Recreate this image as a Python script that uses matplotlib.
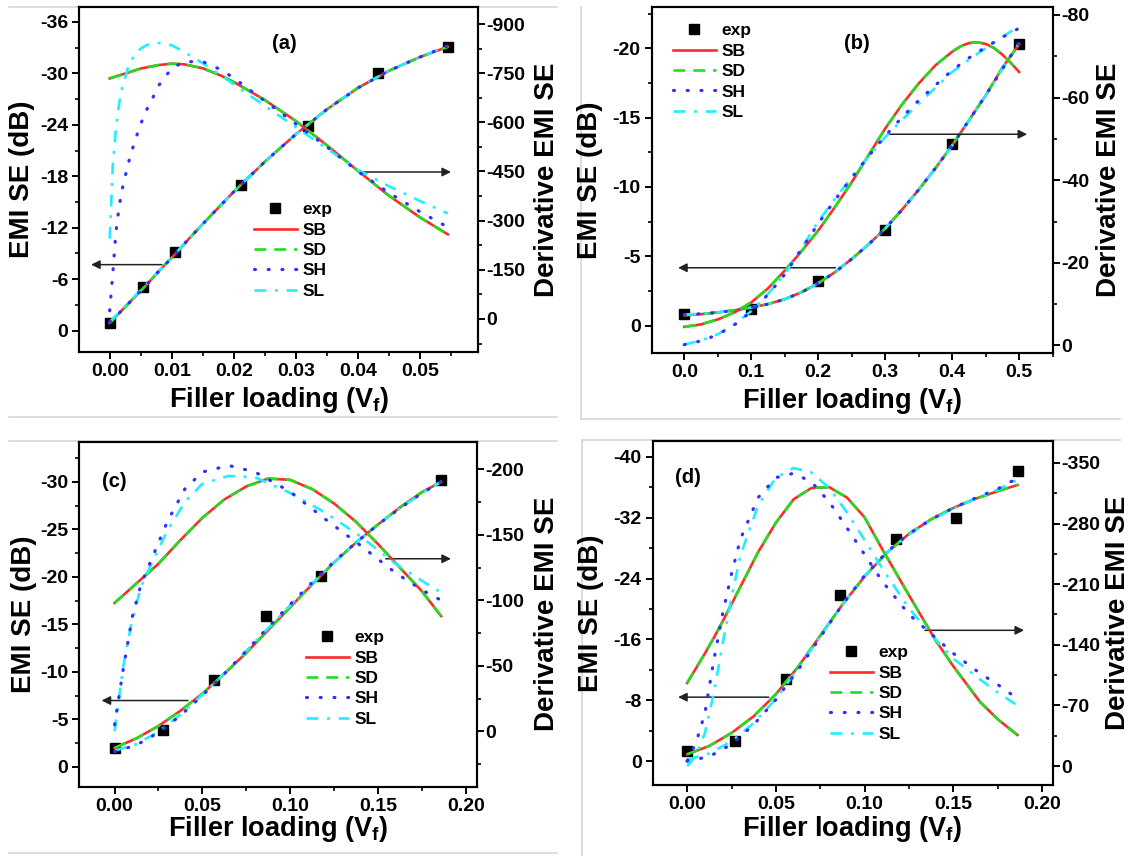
import matplotlib
matplotlib.use('Agg')
import matplotlib.pyplot as plt
from matplotlib.lines import Line2D
from matplotlib.ticker import MultipleLocator, FormatStrFormatter

plt.rcParams['font.family'] = ['Liberation Sans', 'DejaVu Sans']
plt.rcParams['font.weight'] = 'bold'
plt.rcParams['axes.unicode_minus'] = False
plt.rcParams['mathtext.fontset'] = 'custom'
plt.rcParams['mathtext.rm'] = 'Liberation Sans:bold'
plt.rcParams['mathtext.bf'] = 'Liberation Sans:bold'
plt.rcParams['mathtext.default'] = 'bf'

# ---------------- panel (a) ----------------
x_exp_a = [0.0, 0.0054, 0.0105, 0.0211, 0.0320, 0.0432, 0.0545]
y_exp_a = [-0.9, -5.1, -9.2, -17.0, -23.9, -30.0, -33.1]
x_fit_a = [0, 0.002, 0.004, 0.006, 0.008, 0.010, 0.013, 0.016, 0.020, 0.025,
           0.030, 0.035, 0.040, 0.045, 0.050, 0.0545]
emi_sb_a = [-0.9, -2.4, -3.9, -5.4, -7.0, -8.5, -10.9, -13.2, -16.2, -19.7,
            -22.9, -25.8, -28.3, -30.3, -31.9, -33.1]
emi_sh_a = [-1.0, -2.4, -3.9, -5.4, -7.0, -8.5, -10.9, -13.2, -16.2, -19.7,
            -22.9, -25.8, -28.3, -30.3, -31.9, -33.2]
emi_sl_a = [-1.0, -2.5, -4.0, -5.5, -7.0, -8.5, -10.9, -13.2, -16.2, -19.7,
            -22.9, -25.8, -28.3, -30.3, -31.9, -33.2]
x_der_a = [0, 0.0005, 0.001, 0.0015, 0.002, 0.003, 0.004, 0.005, 0.006, 0.008,
           0.010, 0.012, 0.015, 0.018, 0.020, 0.025, 0.030, 0.035, 0.040,
           0.045, 0.050, 0.0545]
der_sb_a = [-734, -737, -740, -743, -746, -752, -758, -764, -768, -775, -779,
            -777, -765, -742, -723, -668, -604, -530, -452, -376, -310, -258]
der_sh_a = [-25, -140, -265, -340, -395, -475, -540, -595, -640, -715, -765,
            -785, -785, -760, -735, -665, -595, -525, -450, -385, -327, -280]
der_sl_a = [-245, -470, -580, -655, -705, -770, -805, -825, -836, -842, -835,
            -815, -780, -742, -716, -650, -585, -520, -455, -405, -360, -322]

# ---------------- panel (b) ----------------
x_exp_b = [0.0, 0.1, 0.2, 0.3, 0.4, 0.5]
y_exp_b = [-0.85, -1.2, -3.2, -6.9, -13.1, -20.3]
x_fit_b = [0, 0.025, 0.05, 0.075, 0.1, 0.125, 0.15, 0.175, 0.2, 0.225, 0.25,
           0.275, 0.3, 0.325, 0.35, 0.375, 0.4, 0.425, 0.45, 0.475, 0.5]
emi_sb_b = [-0.75, -0.82, -0.95, -1.1, -1.3, -1.55, -1.9, -2.4, -3.05, -3.85,
            -4.8, -5.85, -7.0, -8.35, -9.8, -11.35, -13.0, -14.8, -16.6,
            -18.6, -20.3]
emi_sh_b = [-0.8, -0.85, -0.95, -1.1, -1.3, -1.55, -1.9, -2.4, -3.05, -3.85,
            -4.8, -5.85, -7.0, -8.35, -9.8, -11.35, -13.0, -14.8, -16.6,
            -18.5, -20.4]
emi_sl_b = [-0.8, -0.85, -0.95, -1.1, -1.3, -1.55, -1.9, -2.4, -3.05, -3.85,
            -4.8, -5.85, -7.0, -8.35, -9.8, -11.35, -13.0, -14.8, -16.6,
            -18.5, -20.4]
x_der_b = [0, 0.025, 0.05, 0.075, 0.1, 0.125, 0.15, 0.175, 0.2, 0.225, 0.25,
           0.275, 0.3, 0.325, 0.35, 0.375, 0.4, 0.4125, 0.425, 0.4375, 0.45,
           0.4625, 0.475, 0.4875, 0.5]
der_sb_b = [-4.5, -5.1, -6.3, -8.0, -10.4, -13.8, -18.1, -22.8, -27.8, -33.5,
            -39.5, -46.0, -52.5, -58.3, -63.4, -67.8, -71.1, -72.4, -73.2,
            -73.4, -73.0, -72.0, -70.4, -68.4, -66.2]
der_sh_b = [-0.2, -1.1, -2.6, -5.0, -8.2, -12.3, -17.2, -23.3, -29.5, -35.2,
            -40.6, -45.8, -50.7, -55.2, -59.3, -63.0, -66.6, -68.1, -69.6,
            -70.9, -72.2, -73.4, -74.6, -75.7, -76.8]
der_sl_b = [-0.2, -1.2, -2.7, -5.2, -8.3, -12.5, -17.2, -23.5, -30.0, -35.5,
            -40.7, -45.7, -50.4, -54.6, -58.5, -62.4, -66.2, -67.7, -69.2,
            -70.6, -71.9, -73.3, -74.7, -76.0, -77.2]

# ---------------- panel (c) ----------------
x_exp_c = [0.0, 0.0274, 0.0565, 0.0862, 0.1175, 0.186]
y_exp_c = [-2.0, -3.9, -9.1, -15.9, -20.1, -30.2]
x_fit_c = [0, 0.0125, 0.025, 0.0375, 0.05, 0.0625, 0.075, 0.0875, 0.1, 0.1125,
           0.125, 0.1375, 0.15, 0.1625, 0.175, 0.186]
emi_sb_c = [-2.0, -3.0, -4.3, -5.9, -7.7, -9.8, -12.0, -14.4, -16.8, -19.2,
            -21.5, -23.6, -25.5, -27.3, -28.9, -30.0]
emi_sh_c = [-1.6, -2.3, -3.6, -5.4, -7.5, -9.8, -12.2, -14.7, -17.1, -19.4,
            -21.6, -23.6, -25.5, -27.2, -28.8, -30.0]
emi_sl_c = [-1.7, -2.4, -3.7, -5.5, -7.6, -9.8, -12.2, -14.6, -17.0, -19.3,
            -21.5, -23.6, -25.5, -27.2, -28.8, -30.0]
der_sb_c = [-98, -113, -128, -146, -163, -177, -187, -193, -192, -185, -174,
            -160, -143, -125, -107, -88]
x_der_c = [0, 0.005, 0.01, 0.015, 0.02, 0.03, 0.04, 0.05, 0.065, 0.08, 0.1,
           0.12, 0.14, 0.16, 0.175, 0.186]
der_sh_c = [-5, -48, -87, -112, -128, -160, -185, -198, -203, -198, -183,
            -162, -142, -121, -108, -100]
der_sl_c = [0, -50, -85, -110, -125, -153, -175, -189, -195, -194, -182,
            -167, -149, -128, -115, -106]

# ---------------- panel (d) ----------------
x_exp_d = [0.0, 0.0272, 0.0558, 0.0863, 0.1176, 0.1513, 0.1865]
y_exp_d = [-1.3, -2.7, -10.8, -21.8, -29.2, -31.9, -38.2]
x_fit_d = [0, 0.0125, 0.025, 0.0375, 0.05, 0.0625, 0.075, 0.0875, 0.1, 0.1125,
           0.125, 0.1375, 0.15, 0.1625, 0.175, 0.186]
emi_sb_d = [-0.9, -2.0, -3.7, -5.9, -8.8, -12.4, -16.5, -20.6, -24.3, -27.4,
            -29.9, -31.8, -33.3, -34.5, -35.5, -36.3]
emi_sh_d = [0.0, -0.6, -2.2, -4.8, -8.1, -12.0, -16.3, -20.6, -24.4, -27.5,
            -29.9, -31.8, -33.3, -34.6, -35.8, -37.2]
emi_sl_d = [-0.2, -1.0, -2.6, -5.0, -8.2, -12.2, -16.4, -20.6, -24.4, -27.4,
            -29.8, -31.7, -33.2, -34.5, -35.7, -37.0]
x_der_d = [0, 0.005, 0.01, 0.015, 0.02, 0.025, 0.03, 0.04, 0.05, 0.06, 0.07,
           0.08, 0.09, 0.1, 0.11, 0.125, 0.14, 0.15, 0.165, 0.175, 0.186]
der_sb_d = [-96, -113, -130, -148, -167, -187, -207, -247, -281, -308, -321,
            -322, -310, -287, -250, -197, -145, -115, -74, -54, -36]
der_sh_d = [-6, -27, -61, -122, -176, -222, -262, -310, -333, -338, -328,
            -305, -275, -244, -213, -175, -148, -130, -107, -94, -78]
der_sl_d = [0, -12, -38, -84, -141, -195, -243, -301, -333, -344, -339,
            -321, -293, -261, -228, -182, -146, -124, -100, -85, -70]

# line styles
st_sb = dict(color='#ff2b2b', lw=1.9, zorder=3)
st_sd = dict(color='#22dd22', lw=1.9, dashes=(4.5, 3), zorder=4)
st_sh = dict(color='#3030ff', lw=2.3, dashes=(0.3, 4.0),
             dash_capstyle='round', zorder=6)
st_sl = dict(color='#22eeff', lw=1.9, dashes=(4.5, 3.3, 1.1, 3.3), zorder=5)

W, H = 1136, 856
fig = plt.figure(figsize=(W / 100, H / 100), dpi=100)


def px(x0, y0, x1, y1):
    return [x0 / W, (x1 - x0) / W, 1 - y1 / H, (y1 - y0) / H]


def panel(box, xlim, ylim, y2lim, steps, xfmt,
          xe, ye, xf, e_sb, e_sh, e_sl, xd, d_sb, d_sh, d_sl, xd_sb,
          tag, tag_xy, arrows, leg_xy, ylab_x, y2lab_x, xlab_y):
    l, w, b, h = box
    ax = fig.add_axes([l, b, w, h])
    ax2 = ax.twinx()
    ax.set_xlim(*xlim)
    ax.set_ylim(*ylim)
    ax2.set_ylim(*y2lim)

    ax.plot(xf, e_sb, **st_sb)
    ax.plot(xf, e_sb, **st_sd)
    ax.plot(xf, e_sl, **st_sl)
    ax.plot(xf, e_sh, **st_sh)
    ax.plot(xe, ye, ls='none', marker='s', ms=7, color='black', zorder=2)

    ax2.plot(xd_sb, d_sb, **st_sb)
    ax2.plot(xd_sb, d_sb, **st_sd)
    ax2.plot(xd, d_sl, **st_sl)
    ax2.plot(xd, d_sh, **st_sh)

    for (xa0, ya0, xa1) in arrows:
        ax.annotate('', xy=(xa1, ya0), xytext=(xa0, ya0),
                    arrowprops=dict(arrowstyle='-|>', color='#222222', lw=1.1,
                                    mutation_scale=13, shrinkA=0, shrinkB=0),
                    zorder=8)
    ax.text(tag_xy[0], tag_xy[1], tag, fontsize=14.5, fontweight='bold',
            ha='center', va='center')

    ax.xaxis.set_major_locator(MultipleLocator(steps[0]))
    ax.xaxis.set_minor_locator(MultipleLocator(steps[0] / 2))
    ax.xaxis.set_major_formatter(FormatStrFormatter(xfmt))
    ax.yaxis.set_major_locator(MultipleLocator(steps[1]))
    ax.yaxis.set_minor_locator(MultipleLocator(steps[1] / 2))
    ax.yaxis.set_major_formatter(FormatStrFormatter('%d'))
    ax2.yaxis.set_major_locator(MultipleLocator(steps[2]))
    ax2.yaxis.set_minor_locator(MultipleLocator(steps[2] / 2))
    ax2.yaxis.set_major_formatter(FormatStrFormatter('%d'))

    ax.xaxis.set_ticks_position('bottom')
    ax.yaxis.set_ticks_position('left')
    ax.tick_params(which='major', direction='out', length=5, width=1.4,
                   labelsize=14, pad=3)
    ax.tick_params(which='minor', direction='out', length=3, width=1.2)
    ax2.tick_params(which='major', direction='out', length=5, width=1.4,
                    labelsize=14, pad=1)
    ax2.tick_params(which='minor', direction='out', length=3, width=1.2)
    for a in (ax, ax2):
        for s in a.spines.values():
            s.set_linewidth(1.5)

    ax.set_xlabel(r'Filler loading (V$_f$)', fontsize=19.5, fontweight='bold')
    ax.set_ylabel('EMI SE (dB)', fontsize=20, fontweight='bold')
    ax2.set_ylabel('Derivative EMI SE', fontsize=20, fontweight='bold')
    ax.xaxis.set_label_coords(0.5, xlab_y)
    ax.xaxis.label.set_va('center')
    ax.yaxis.set_label_coords(ylab_x, 0.5)
    ax.yaxis.label.set_va('center')
    ax2.yaxis.set_label_coords(y2lab_x, 0.5)
    ax2.yaxis.label.set_va('center')

    handles = [Line2D([], [], ls='none', marker='s', ms=7, color='black'),
               Line2D([], [], **st_sb), Line2D([], [], **st_sd),
               Line2D([], [], **st_sh), Line2D([], [], **st_sl)]
    ax2.legend(handles, ['exp', 'SB', 'SD', 'SH', 'SL'], loc='upper left',
               bbox_to_anchor=leg_xy, frameon=False,
               handlelength=2.5, handletextpad=0.3, labelspacing=0.3,
               borderpad=0, borderaxespad=0, numpoints=1,
               prop=dict(weight='bold', size=12.5))


panel(px(79.3, 7.3, 478.3, 351.7), (-0.0049, 0.0594), (2.45, -37.7), (100, -951),
      (0.01, 6, 150), '%.2f',
      x_exp_a, y_exp_a, x_fit_a, emi_sb_a, emi_sh_a, emi_sl_a,
      x_der_a, der_sb_a, der_sh_a, der_sl_a, x_der_a,
      '(a)', (0.0282, -33.5),
      [(0.0084, -7.7, -0.003), (0.0407, -18.5, 0.055)],
      (0.437, 0.434), -0.144, 1.172, -0.140)

panel(px(651.7, 6.7, 1053.3, 353.3), (-0.0486, 0.551), (2.0, -23.0), (1.9, -82),
      (0.1, 5, 20), '%.1f',
      x_exp_b, y_exp_b, x_fit_b, emi_sb_b, emi_sh_b, emi_sl_b,
      x_der_b, der_sb_b, der_sh_b, der_sl_b, x_der_b,
      '(b)', (0.258, -20.36),
      [(0.2257, -4.17, -0.0092), (0.304, -13.8, 0.512)],
      (0.052, 0.952), -0.154, 1.139, -0.138)

panel(px(79.3, 441.9, 477.3, 786.7), (-0.0201, 0.2066), (2.09, -34.2), (42.3, -221),
      (0.05, 5, 50), '%.2f',
      x_exp_c, y_exp_c, x_fit_c, emi_sb_c, emi_sh_c, emi_sl_c,
      x_der_c, der_sb_c, der_sh_c, der_sl_c, x_fit_c,
      '(c)', (0.0, -30.08),
      [(0.0418, -6.98, -0.0074), (0.1544, -21.9, 0.1916)],
      (0.569, 0.454), -0.140, 1.175, -0.123)

panel(px(652.7, 441.3, 1052.7, 785.0), (-0.0194, 0.2059), (3.14, -42.05), (21.8, -374.9),
      (0.05, 8, 70), '%.2f',
      x_exp_d, y_exp_d, x_fit_d, emi_sb_d, emi_sh_d, emi_sl_d,
      x_der_d, der_sb_d, der_sh_d, der_sl_d, x_der_d,
      '(d)', (0.0004, -37.3),
      [(0.046, -8.41, -0.0051), (0.134, -17.2, 0.1898)],
      (0.442, 0.407), -0.153, 1.164, -0.128)

# faint borders of the four sub-pictures
for (x0, y0, x1, y1) in [(9, 7, 557, 7), (9, 417, 557, 417),
                         (580.5, 7, 580.5, 419), (580.5, 419, 1120, 419),
                         (9, 441, 557, 441), (9, 853, 557, 853),
                         (581.5, 440, 581.5, 856), (581.5, 440, 1120, 440)]:
    fig.add_artist(Line2D([x0 / W, x1 / W], [1 - y0 / H, 1 - y1 / H],
                          color='#d6d6d6', lw=1.2, zorder=0))

fig.savefig('out.png', dpi=100)
